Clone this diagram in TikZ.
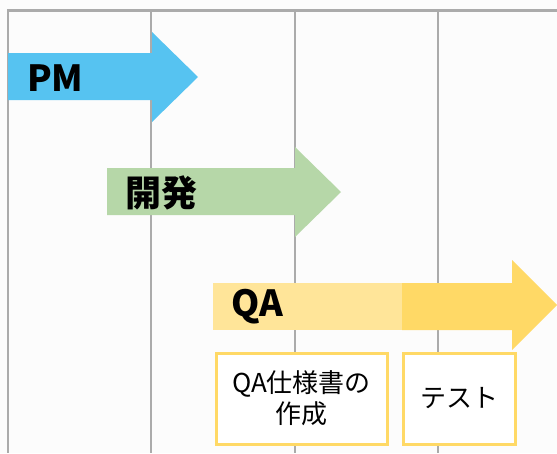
\documentclass[tikz,border=0pt]{standalone}
\usepackage{fontspec}
\setmainfont{Noto Sans CJK JP}
\definecolor{gridc}{HTML}{ABABAB}
\definecolor{pmblue}{HTML}{56C3F1}
\definecolor{devgreen}{HTML}{B6D7A8}
\definecolor{qalight}{HTML}{FFE599}
\definecolor{qadark}{HTML}{FFD966}
\begin{document}
\begin{tikzpicture}[x=1pt,y=-1pt,
  grid/.style={draw=gridc,line width=1.5pt},
  bartext/.style={anchor=west,inner sep=0pt,font=\fontsize{36}{42}\selectfont\bfseries},
  taskbox/.style={draw=qadark,line width=3pt,fill=white,align=center,font=\fontsize{26}{31}\selectfont}]
\useasboundingbox (0,0) rectangle (557,453);
\fill[white!99!black] (0,0) rectangle (557,453);
% grid
\foreach \x in {8,151,295,438} \draw[grid] (\x,10) -- (\x,453);
\draw[draw=gridc,line width=3pt] (7,10) -- (557,10);
% PM arrow
\fill[pmblue] (8,53) -- (152,53) -- (152,32) -- (198,77) -- (152,122) -- (152,100) -- (8,100) -- cycle;
\node[bartext] (pm) at (27,78) {PM};
% dev arrow
\fill[devgreen] (107,168) -- (295,168) -- (295,147) -- (341,192) -- (295,237) -- (295,215) -- (107,215) -- cycle;
\node[bartext] (dev) at (125,193) {開発};
% QA arrow
\fill[qadark] (402,283) -- (512,283) -- (512,260) -- (557,305) -- (512,350) -- (512,330) -- (402,330) -- cycle;
\fill[qalight] (213,283) rectangle (402,330);
\node[bartext] (qa) at (231,307) {QA};
% task boxes
\node[taskbox,minimum width=171pt,minimum height=91pt,anchor=north west] (spec) at (214.5,351.5) {QA仕様書の\\作成};
\node[taskbox,minimum width=112pt,minimum height=91pt,anchor=north west] (test) at (401.5,351.5) {テスト};
\end{tikzpicture}
\end{document}
